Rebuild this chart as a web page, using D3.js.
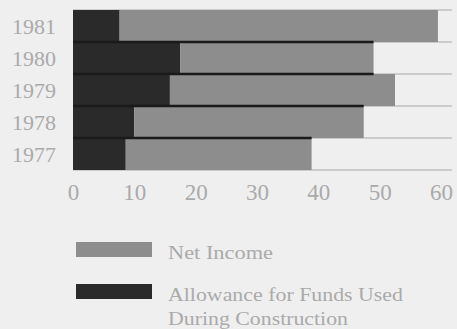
<!DOCTYPE html>
<html>
<head>
<meta charset="utf-8">
<script src="https://cdn.jsdelivr.net/npm/d3@7"></script>
<style>
  html, body { margin: 0; padding: 0; background: #efefef; }
  svg { display: block; }
  text { font-family: "Liberation Serif", serif; fill: #aaaaaa; }
</style>
</head>
<body>
<script>
// Data (millions of dollars)
const years = ["1981", "1980", "1979", "1978", "1977"];
const afudc = [7.6, 17.5, 15.8, 10.0, 8.6];          // Allowance for Funds Used During Construction
const netIncome = [51.9, 31.5, 36.7, 37.4, 30.3];    // Net Income
const tickValues = [0, 10, 20, 30, 40, 50, 60];
const legendLabels = ["Net Income", "Allowance for Funds Used", "During Construction"];

const W = 457, H = 329;
const colDark = "#2a2a2a", colGray = "#8d8d8d";

const svg = d3.select("body").append("svg").attr("width", W).attr("height", H);

const x = d3.scaleLinear().domain([0, 60]).range([73, 441]);
const y = d3.scaleBand().domain(years).range([10, 170]).padding(0);

const rows = years.map((yr, i) => ({ yr, a: afudc[i], n: netIncome[i], total: afudc[i] + netIncome[i] }));

// gray gridlines at band boundaries
const bounds = years.map(yr => y(yr)).concat([y(years[years.length - 1]) + y.bandwidth()]);
svg.append("g").selectAll("line").data(bounds).join("line")
  .attr("x1", x(0)).attr("x2", 452)
  .attr("y1", d => d).attr("y2", d => d)
  .attr("stroke", "#a8a8a8").attr("stroke-width", 1);

// bars
const g = svg.append("g");
g.selectAll("rect.a").data(rows).join("rect").attr("class", "a")
  .attr("x", x(0)).attr("y", d => y(d.yr))
  .attr("width", d => x(d.a) - x(0)).attr("height", y.bandwidth())
  .attr("fill", colDark);
g.selectAll("rect.n").data(rows).join("rect").attr("class", "n")
  .attr("x", d => x(d.a)).attr("y", d => y(d.yr))
  .attr("width", d => x(d.total) - x(d.a)).attr("height", y.bandwidth())
  .attr("fill", colGray);

// dark separators between adjacent bars
const seps = rows.slice(1).map((d, i) => ({ yy: y(d.yr), end: Math.min(d.total, rows[i].total) }));
g.selectAll("line.sep").data(seps).join("line").attr("class", "sep")
  .attr("x1", x(0)).attr("x2", d => x(d.end))
  .attr("y1", d => d.yy).attr("y2", d => d.yy)
  .attr("stroke", "#1a1a1a").attr("stroke-width", 2.4);

// year labels
svg.append("g").selectAll("text").data(years).join("text")
  .attr("x", 56).attr("y", d => y(d) + y.bandwidth() / 2 + 7.5)
  .attr("text-anchor", "end").attr("font-size", 22)
  .text(d => d);

// x axis tick labels
const xAxis = d3.axisBottom(x).tickValues(tickValues).tickSize(0).tickPadding(0);
const ax = svg.append("g").attr("transform", "translate(0,184)").call(xAxis);
ax.select(".domain").remove();
ax.selectAll("text").attr("font-size", 23).attr("dy", "0.71em")
  .attr("font-family", "Liberation Serif, serif").attr("fill", "#aaaaaa");

// legend
const lg = svg.append("g");
lg.append("rect").attr("x", 76).attr("y", 242).attr("width", 76).attr("height", 15).attr("fill", colGray);
lg.append("rect").attr("x", 76).attr("y", 284).attr("width", 76).attr("height", 15).attr("fill", colDark);
lg.append("text").attr("x", 168).attr("y", 259).attr("font-size", 19)
  .attr("textLength", 105).attr("lengthAdjust", "spacingAndGlyphs").text(legendLabels[0]);
lg.append("text").attr("x", 168).attr("y", 301).attr("font-size", 19)
  .attr("textLength", 235).attr("lengthAdjust", "spacingAndGlyphs").text(legendLabels[1]);
lg.append("text").attr("x", 168).attr("y", 325).attr("font-size", 19)
  .attr("textLength", 180).attr("lengthAdjust", "spacingAndGlyphs").text(legendLabels[2]);
</script>
</body>
</html>
